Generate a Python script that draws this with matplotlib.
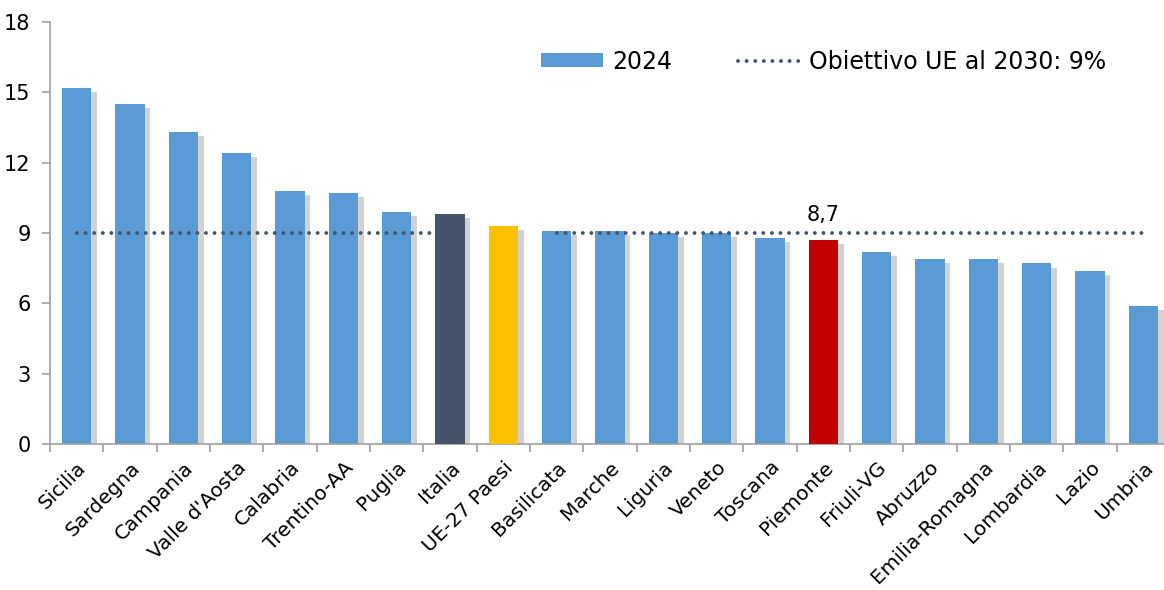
import numpy as np
import matplotlib
matplotlib.use('Agg')
import matplotlib.pyplot as plt
import matplotlib.patheffects as pe
from matplotlib.patches import Patch
from matplotlib.lines import Line2D

regioni = ['Sicilia', 'Sardegna', 'Campania', "Valle d'Aosta", 'Calabria', 'Trentino-AA',
           'Puglia', 'Italia', 'UE-27 Paesi', 'Basilicata', 'Marche', 'Liguria', 'Veneto',
           'Toscana', 'Piemonte', 'Friuli-VG', 'Abruzzo', 'Emilia-Romagna', 'Lombardia',
           'Lazio', 'Umbria']
valori_2024 = [15.2, 14.5, 13.3, 12.4, 10.8, 10.7, 9.9, 9.8, 9.3, 9.1, 9.1, 9.0, 9.0,
               8.8, 8.7, 8.2, 7.9, 7.9, 7.7, 7.4, 5.9]
# obiettivo UE al 2030 (linea interrotta su UE-27)
obiettivo = [9] * 8 + [np.nan] + [9] * 12

plt.rcParams['font.family'] = ['DejaVu Sans']

blu = '#5B9BD5'
grigio_linea = '#44546A'
colori = {'Italia': '#44546A', 'UE-27 Paesi': '#FFC000', 'Piemonte': '#C00000'}

fig = plt.figure(figsize=(11.64, 5.9), dpi=100)
ax = fig.add_axes([50 / 1164, 146 / 590, 1120 / 1164, 422 / 590])

x = np.arange(len(regioni))
shadow = [pe.SimplePatchShadow(offset=(4, -3), shadow_rgbFace='#8f8f8f', alpha=0.4), pe.Normal()]
barre = ax.bar(x, valori_2024, width=0.55, color=blu, zorder=2)
for b, r in zip(barre, regioni):
    b.set_path_effects(shadow)
    if r in colori:
        b.set_facecolor(colori[r])
        b.set_zorder(4)

dots = (0, (0.01, 2.2))
ax.plot(x, obiettivo, color=grigio_linea, lw=2.8, linestyle=dots,
        dash_capstyle='round', zorder=3)

ip = regioni.index('Piemonte')
ax.annotate('8,7', (ip, 9), xytext=(0, 6), textcoords='offset points',
            ha='center', va='bottom', fontsize=15)

ax.set_xlim(-0.5, len(regioni) - 0.5)
ax.set_ylim(0, 18)
ax.set_yticks(np.arange(0, 19, 3))
ax.set_xticks(x)
ax.set_xticklabels(regioni, rotation=45, ha='right', rotation_mode='anchor', fontsize=14.5)
ax.set_xticks(np.arange(len(regioni) + 1) - 0.5, minor=True)
ax.tick_params(axis='x', which='major', length=0, pad=10)
ax.tick_params(axis='x', which='minor', length=6, color='#A0A0A0', width=1.2)
ax.tick_params(axis='y', length=6, color='#A0A0A0', width=1.2, labelsize=15, pad=8)

for s in ['top', 'right']:
    ax.spines[s].set_visible(False)
for s in ['left', 'bottom']:
    ax.spines[s].set_color('#A0A0A0')
    ax.spines[s].set_linewidth(1.2)

handles = [Patch(facecolor=blu, label='2024'),
           Line2D([], [], color=grigio_linea, lw=2.8, linestyle=dots, dash_capstyle='round',
                  label='Obiettivo UE al 2030: 9%')]
ax.legend(handles=handles, loc='upper right', bbox_to_anchor=(0.962, 0.985), ncol=2,
          frameon=False, fontsize=17, handlelength=2.6, columnspacing=2.8,
          handleheight=0.55, handletextpad=0.4)

fig.savefig('out.png', dpi=100)
